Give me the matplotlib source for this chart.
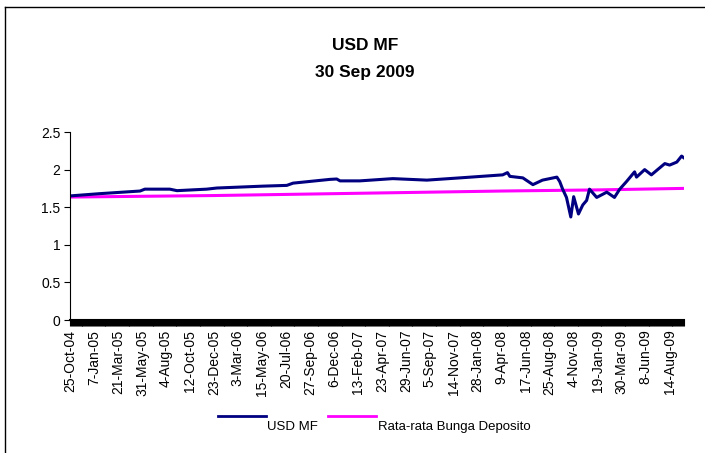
import numpy as np
import matplotlib.pyplot as plt
from matplotlib.lines import Line2D

plt.rcParams['font.family'] = ['Liberation Sans', 'DejaVu Sans']

# --- data (category index = trading day) ---
mf_idx = [0, 62, 146, 156, 208, 223, 285, 306, 402, 452, 465, 542, 556, 563,
          604, 673, 744, 813, 902, 912, 917, 944, 965, 985, 1015, 1021, 1027,
          1035, 1044, 1050, 1060, 1069, 1077, 1083, 1098, 1119, 1135, 1146,
          1160, 1177, 1181, 1198, 1212, 1225, 1240, 1250, 1265, 1275, 1279]
mf_val = [1.65, 1.68, 1.715, 1.74, 1.74, 1.72, 1.74, 1.755, 1.78, 1.79, 1.82,
          1.87, 1.875, 1.85, 1.85, 1.88, 1.86, 1.89, 1.93, 1.96, 1.91, 1.89,
          1.80, 1.86, 1.90, 1.84, 1.74, 1.63, 1.37, 1.64, 1.41, 1.53, 1.59,
          1.74, 1.63, 1.70, 1.63, 1.74, 1.84, 1.97, 1.90, 2.00, 1.93, 2.00,
          2.08, 2.06, 2.10, 2.18, 2.16]

dep_idx = [0, 300, 600, 900, 1100, 1279]
dep_val = [1.635, 1.655, 1.685, 1.715, 1.73, 1.75]

tick_labels = ['25-Oct-04', '7-Jan-05', '21-Mar-05', '31-May-05', '4-Aug-05',
               '12-Oct-05', '23-Dec-05', '3-Mar-06', '15-May-06', '20-Jul-06',
               '27-Sep-06', '6-Dec-06', '13-Feb-07', '23-Apr-07', '29-Jun-07',
               '5-Sep-07', '14-Nov-07', '28-Jan-08', '9-Apr-08', '17-Jun-08',
               '25-Aug-08', '4-Nov-08', '19-Jan-09', '30-Mar-09', '8-Jun-09',
               '14-Aug-09']
tick_step = 50

fig = plt.figure(figsize=(7.05, 4.53), dpi=100)
ax = fig.add_axes([70 / 705, 1 - 320 / 453, 614 / 705, 188 / 453])

ax.plot(dep_idx, dep_val, color='#FF00FF', linewidth=2.2)
ax.plot(mf_idx, mf_val, color='#000080', linewidth=2.2)

ax.set_xlim(0, 1280)
ax.set_ylim(0, 2.5)
ax.set_yticks(np.arange(0, 2.51, 0.5))
ax.set_yticklabels(['0', '0.5', '1', '1.5', '2', '2.5'], fontsize=10)
ax.set_xticks(np.arange(len(tick_labels)) * tick_step)
ax.set_xticklabels(tick_labels, rotation=90, fontsize=10)
ax.set_xticks(np.arange(0, 1281, 2), minor=True)
ax.tick_params(axis='x', which='both', length=4, width=0.8, direction='out', pad=3)
ax.tick_params(axis='y', length=4, width=0.8, pad=3)

for s in ['top', 'right']:
    ax.spines[s].set_visible(False)
ax.spines['bottom'].set_linewidth(1.5)

# title
fig.text(365 / 705, 1 - 45 / 453, 'USD MF', ha='center', va='center',
         fontsize=12.5, fontweight='bold')
fig.text(365 / 705, 1 - 72 / 453, '30 Sep 2009', ha='center', va='center',
         fontsize=12.5, fontweight='bold')

# legend (lines above-left of text, as in the original)
fig.add_artist(Line2D([218 / 705, 266 / 705], [1 - 416 / 453] * 2,
                      color='#000080', linewidth=2, transform=fig.transFigure))
fig.text(267 / 705, 1 - 427 / 453, 'USD MF', va='center', fontsize=9.5)
fig.add_artist(Line2D([328 / 705, 376 / 705], [1 - 416 / 453] * 2,
                      color='#FF00FF', linewidth=2, transform=fig.transFigure))
fig.text(378 / 705, 1 - 427 / 453, 'Rata-rata Bunga Deposito', va='center', fontsize=9.5)

# outer frame (top and left only)
fig.add_artist(Line2D([5 / 705, 1], [1 - 7 / 453] * 2, color='black',
                      linewidth=1, transform=fig.transFigure))
fig.add_artist(Line2D([5 / 705, 5 / 705], [0, 1 - 7 / 453], color='black',
                      linewidth=1, transform=fig.transFigure))

fig.savefig('out.png', dpi=100)
